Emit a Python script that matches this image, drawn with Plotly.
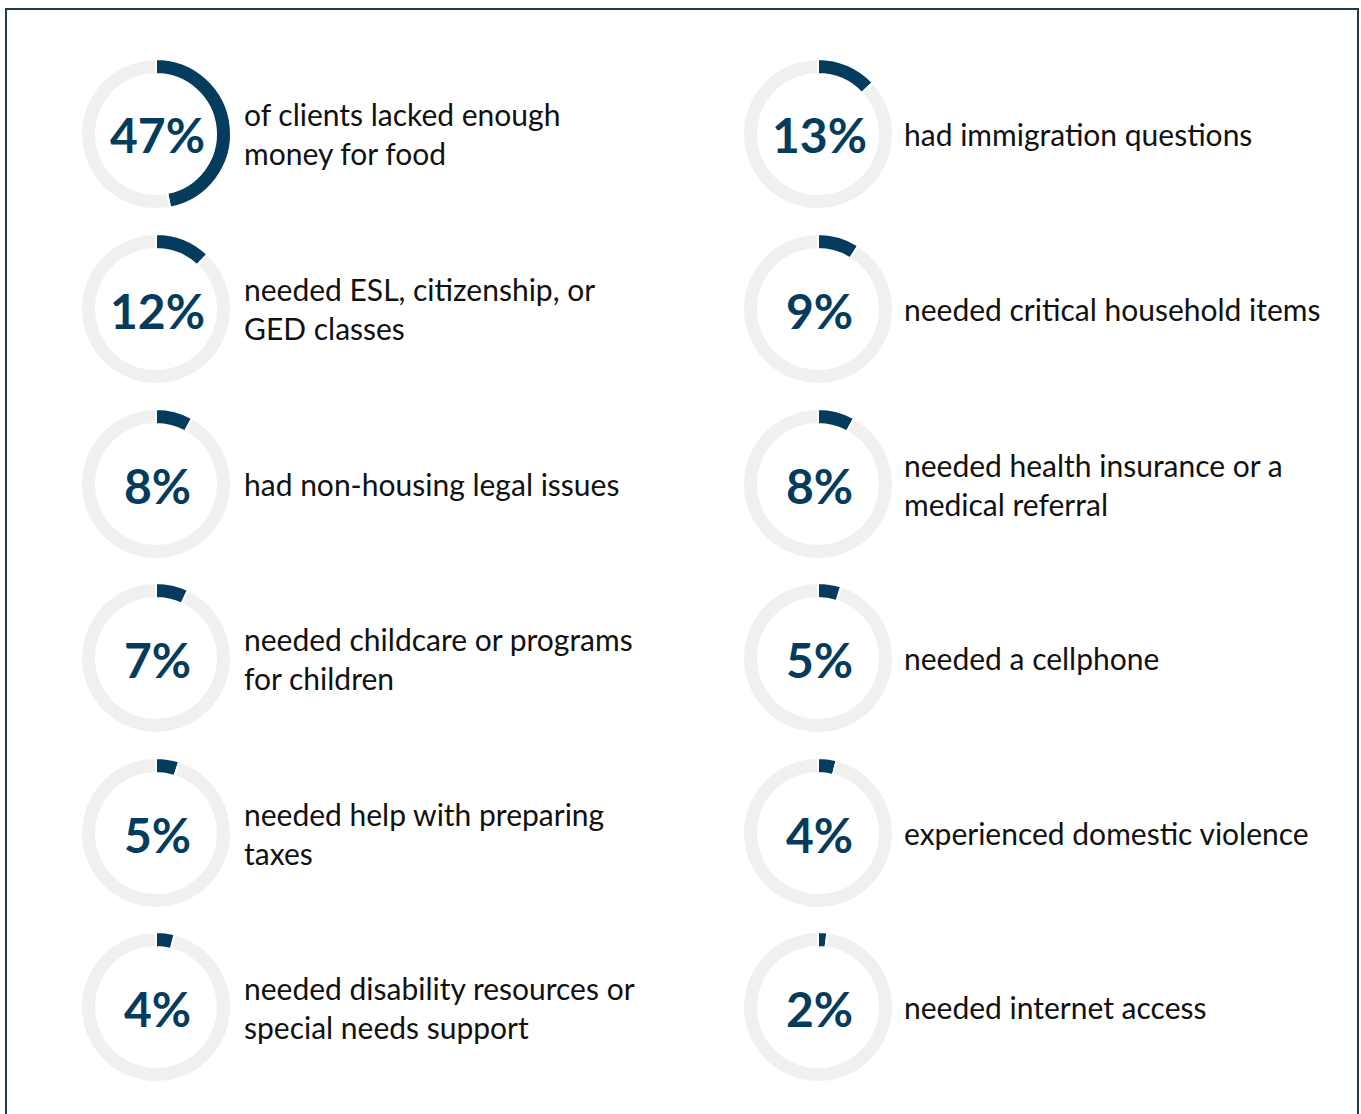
import plotly.graph_objects as go

# Share of clients reporting each need
left_pcts = [47, 12, 8, 7, 5, 4]
left_labels = [
    "of clients lacked enough<br>money for food",
    "needed ESL, citizenship, or<br>GED classes",
    "had non-housing legal issues",
    "needed childcare or programs<br>for children",
    "needed help with preparing<br>taxes",
    "needed disability resources or<br>special needs support",
]
right_pcts = [13, 9, 8, 5, 4, 2]
right_labels = [
    "had immigration questions",
    "needed critical household items",
    "needed health insurance or a<br>medical referral",
    "needed a cellphone",
    "experienced domestic violence",
    "needed internet access",
]

W, H = 1361, 1114
NAVY = "#053b5c"
TRACK = "#f0f0f0"
FONT = "Lato"

col_cx = [156, 818]        # ring centres (px)
text_x = [242, 902]        # description left edge (px)
row_cy = [134, 309, 484, 658, 833, 1007]
R = 75

fig = go.Figure()
annotations = []

for c, (pcts, labels) in enumerate([(left_pcts, left_labels), (right_pcts, right_labels)]):
    for r, (p, lab) in enumerate(zip(pcts, labels)):
        cx, cy = col_cx[c], row_cy[r]
        fig.add_trace(go.Pie(
            values=[p, 100 - p],
            hole=0.8,
            sort=False,
            direction="clockwise",
            rotation=0,
            marker=dict(colors=[NAVY, TRACK], line=dict(color="white", width=2)),
            textinfo="none",
            hoverinfo="skip",
            showlegend=False,
            domain=dict(x=[(cx - R) / W, (cx + R) / W],
                        y=[1 - (cy + R) / H, 1 - (cy - R) / H]),
        ))
        annotations.append(dict(
            x=(cx + 1) / W, y=1 - (cy + 1) / H, xref="paper", yref="paper",
            text=f"<b>{p}%</b>", showarrow=False,
            xanchor="center", yanchor="middle",
            font=dict(family=FONT, size=48, color=NAVY),
        ))
        annotations.append(dict(
            x=text_x[c] / W, y=1 - cy / H, xref="paper", yref="paper",
            text=lab, showarrow=False, align="left",
            xanchor="left", yanchor="middle",
            font=dict(family=FONT, size=30, color="#111111"),
        ))

fig.update_layout(
    width=W, height=H,
    margin=dict(l=0, r=0, t=0, b=0),
    paper_bgcolor="white",
    plot_bgcolor="white",
    annotations=annotations,
    shapes=[dict(type="rect", xref="paper", yref="paper",
                 x0=6 / W, x1=1358 / W, y0=-0.02, y1=1 - 9 / H,
                 line=dict(color="#1b3a4f", width=2))],
)

fig.write_html("out.html")
